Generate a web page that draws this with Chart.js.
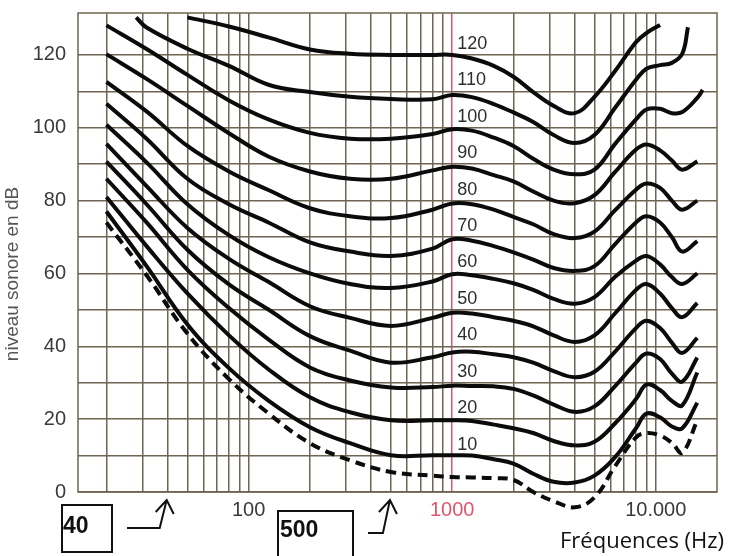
<!DOCTYPE html>
<html>
<head>
<meta charset="utf-8">
<script src="https://cdn.jsdelivr.net/npm/chart.js@4.4.1/dist/chart.umd.min.js"></script>
<style>
  html, body { margin: 0; padding: 0; background: #ffffff; }
  #wrap { position: relative; width: 746px; height: 556px; }
</style>
</head>
<body>
<div id="wrap"><canvas id="chart" width="746" height="556" style="width:746px;height:556px"></canvas></div>
<script>
// Equal-loudness contours (courbes isosoniques)
const freqs = [20, 28, 31.5, 50, 80, 125, 200, 315, 500, 800, 1000, 1250, 1600, 2000, 2500,
  3150, 4000, 5000, 6300, 8000, 9000, 10500, 12000, 13500, 14400, 16000, 17000];

const phon120 = [null, null, null, 130.3, 127.8, 124.8, 121.5, 120.3, 120, 120, 120, 119, 117, 114, 109.8,
  106, 104, 108.5, 115.5, 123.5, 126, 128.2, null, null, null, null, null];
const phon110 = [null, 130.3, 127.5, 121.7, 117, 111.8, 109.8, 108.5, 107.9, 107.8, 109, 108.4, 106.5, 104.2, 101.6,
  98, 95.8, 98, 105.4, 113.2, 116.2, 117.2, 117.8, 120.3, 127.6, null, null];
const phon100 = [128.1, null, 121.6, 114.5, 107.5, 102.3, 98.6, 97, 97, 98.3, 99.6, 99.2, 97.3, 95, 91.5,
  88.5, 87.2, 88.5, 95.5, 102.3, 105, 105.2, 104, 104.3, null, 108.2, 110.4];
const phon90 = [120.2, null, 113.4, 106, 98.5, 92.1, 88, 86, 86, 88.3, 89.3, 88.8, 87, 85.3, 82.5,
  80, 79.3, 81.5, 87.8, 94, 95.4, 93.8, 91, 88.5, null, 90.8, null];
const phon80 = [112.6, null, 104.5, 95, 88, 82.9, 77.9, 75.7, 75.2, 77.5, 79.2, 79, 77.5, 75.5, 73.5,
  70.8, 69.7, 71.5, 77.3, 83, 84.7, 83.5, 80, 77.5, null, 80, null];
const phon70 = [106.6, null, 97, 86, 79, 74, 68.5, 66, 64.8, 66.8, 69.4, 69, 67.5, 65.8, 63.8,
  61.5, 60.7, 62, 68, 74, 75.7, 74, 70, 66, null, 68.9, null];
const phon60 = [100.8, null, 90.5, 79, 70.5, 64.5, 60, 57.1, 56, 57.8, 59.8, 59.5, 58.5, 57.3, 55.5,
  53, 51.7, 53.5, 59, 63.5, 64.8, 62.5, 59, 57.1, null, 60, null];
const phon50 = [95.6, null, 84, 72.5, 64, 57.7, 51, 47.8, 45.6, 47.8, 49.2, 49, 48, 47, 45.5,
  43, 41.2, 43, 49, 55.5, 57.1, 54.5, 50.5, 48, null, 51.9, null];
const phon40 = [90.7, null, 79, 66.5, 57, 50.1, 42.8, 38.8, 35.5, 37, 38.3, 38.5, 37.8, 37, 35.5,
  33.2, 31.5, 33, 38.5, 45, 47, 45, 41, 38.2, null, 42.3, null];
const phon30 = [86, null, 74, 61, 50.5, 41.9, 34.2, 30.6, 28.7, 28.8, 29.2, 29.1, 29, 28.3, 26.5,
  24, 22, 23.5, 29, 35.5, 38, 36.5, 32.5, 30.3, null, 36.9, null];
const phon20 = [81, null, 67.5, 54.5, 43, 33.7, 26, 21.9, 19.7, 19.7, 19.7, 19.5, 18.5, 17.5, 16.2,
  14, 12.8, 13.8, 18.8, 25.5, 29.5, 28, 25, 23.8, null, 32.8, null];
const phon10 = [77, null, 62, 46, 34, 25.1, 17.8, 13.4, 10.1, 10.1, 10.1, 10, 9, 7.8, 5,
  2.8, 2.6, 4.5, 9.5, 17.5, 21.5, 20.5, 18, 17.5, null, 24.5, null];
// seuil d'audition (dashed)
const threshold = [74, null, 59.5, 43.5, 31, 21.6, 13.4, 8.7, 5.5, 4.5, 4.1, 4, 3.8, 3.3, 0,
  -2.5, -4.2, -1.5, 7, 15, 16.2, 15.5, 13.5, 10.8, null, 19.7, null];

const levels = [120, 110, 100, 90, 80, 70, 60, 50, 40, 30, 20, 10];
const curves = [phon120, phon110, phon100, phon90, phon80, phon70, phon60, phon50, phon40, phon30, phon20, phon10];

// grid lines
const xGrid = [20, 30, 40, 50, 60, 70, 80, 90, 100, 200, 300, 400, 500, 600, 700, 800, 900,
  1000, 2000, 3000, 4000, 5000, 6000, 7000, 8000, 9000, 10000];
const xLabels = { 100: "100", 1000: "1000", 10000: "10.000" };
const yGrid = [0, 10, 20, 30, 40, 50, 60, 70, 80, 90, 100, 110, 120];

const gridColor = "#6e6552";
const redColor = "#e0566e";

function toPoints(vals) {
  return freqs
    .map((f, i) => ({ x: f, y: vals[i] }))
    .filter((p) => p.y !== null);
}

const datasets = curves.map((vals, i) => ({
  label: levels[i] + " phon",
  data: toPoints(vals),
  borderColor: "#0b0b0b",
  borderWidth: 4,
  pointRadius: 0,
  tension: 0.4,
  clip: false,
}));
datasets.push({
  label: "seuil",
  data: toPoints(threshold),
  borderColor: "#0b0b0b",
  borderWidth: 4,
  borderDash: [10, 6],
  pointRadius: 0,
  tension: 0.4,
  clip: false,
});

// border, curve labels, axis title and the little hand-made annotations
const extras = {
  id: "extras",
  beforeDatasetsDraw(chart) {
    const a = chart.chartArea;
    const ctx = chart.ctx;
    ctx.save();
    ctx.strokeStyle = gridColor;
    ctx.lineWidth = 1.5;
    ctx.strokeRect(a.left, a.top, a.right - a.left, a.bottom - a.top);
    ctx.restore();
  },
  afterDatasetsDraw(chart) {
    const ctx = chart.ctx;
    const xs = chart.scales.x;
    const ys = chart.scales.y;
    ctx.save();

    // level labels next to the 1000 Hz line
    ctx.font = '18px "Liberation Sans", Arial, sans-serif';
    ctx.fillStyle = "#2e2e2e";
    ctx.textAlign = "left";
    ctx.textBaseline = "middle";
    const lx = xs.getPixelForValue(1000) + 5;
    levels.forEach((lv) => {
      ctx.fillText(String(lv), lx, ys.getPixelForValue(lv) - 11);
    });

    // y axis title
    ctx.save();
    ctx.translate(13, 274);
    ctx.rotate(-Math.PI / 2);
    ctx.textAlign = "center";
    ctx.fillStyle = "#555";
    ctx.font = '19px "Liberation Sans", Arial, sans-serif';
    ctx.fillText("niveau sonore en dB", 0, 0);
    ctx.restore();

    // boxes "40" and "500"
    ctx.strokeStyle = "#111";
    ctx.lineWidth = 2;
    ctx.strokeRect(62, 505, 50, 47);
    ctx.strokeRect(278, 511, 75, 60);
    ctx.fillStyle = "#111";
    ctx.font = 'bold 23px "Liberation Sans", Arial, sans-serif';
    ctx.textAlign = "left";
    ctx.fillText("40", 63, 527);
    ctx.fillText("500", 280, 531);

    // arrows pointing at 40 Hz and 500 Hz
    function arrow(tipX, startX, y) {
      ctx.beginPath();
      ctx.moveTo(startX, y);
      ctx.lineTo(tipX - 8, y);
      ctx.lineTo(tipX - 1, 500);
      ctx.moveTo(tipX - 12, 512);
      ctx.lineTo(tipX - 1, 500);
      ctx.lineTo(tipX + 6, 514);
      ctx.stroke();
    }
    arrow(xs.getPixelForValue(40), 127, 528);
    arrow(xs.getPixelForValue(500), 368, 533);

    // x axis title
    ctx.font = '22px "Open Sans", sans-serif';
    ctx.fillStyle = "#111";
    ctx.textBaseline = "alphabetic";
    ctx.fillText("Fréquences (Hz)", 560, 548);
    ctx.restore();
  },
};

new Chart(document.getElementById("chart"), {
  type: "line",
  data: { datasets: datasets },
  options: {
    responsive: false,
    animation: false,
    devicePixelRatio: 1,
    layout: { padding: { top: 13, right: 29, bottom: 0, left: 0 } },
    plugins: { legend: { display: false }, tooltip: { enabled: false } },
    scales: {
      x: {
        type: "logarithmic",
        min: 14.5,
        max: 20000,
        afterBuildTicks: (s) => {
          s.ticks = xGrid.map((v) => ({ value: v }));
        },
        afterFit: (s) => {
          s.height = 64;
          s.paddingLeft = 0;
          s.paddingRight = 0;
        },
        border: { display: false },
        grid: {
          drawTicks: false,
          lineWidth: 1.5,
          color: (c) => (c.tick && c.tick.value === 1000 ? redColor : gridColor),
        },
        ticks: {
          autoSkip: false,
          maxRotation: 0,
          padding: 6,
          font: { family: '"Liberation Sans", Arial, sans-serif', size: 20 },
          color: (c) => (c.tick && c.tick.value === 1000 ? redColor : "#3a3a3a"),
          callback: (v) => xLabels[v] || "",
        },
      },
      y: {
        min: 0,
        max: 131.5,
        afterBuildTicks: (s) => {
          s.ticks = yGrid.map((v) => ({ value: v }));
        },
        afterFit: (s) => {
          s.width = 78;
          s.paddingTop = 0;
          s.paddingBottom = 0;
        },
        border: { display: false },
        grid: { drawTicks: false, lineWidth: 1.5, color: gridColor },
        ticks: {
          padding: 12,
          font: { family: '"Liberation Sans", Arial, sans-serif', size: 20 },
          color: "#3a3a3a",
          callback: (v) => (v % 20 === 0 ? String(v) : ""),
        },
      },
    },
  },
  plugins: [extras],
});
</script>
</body>
</html>
